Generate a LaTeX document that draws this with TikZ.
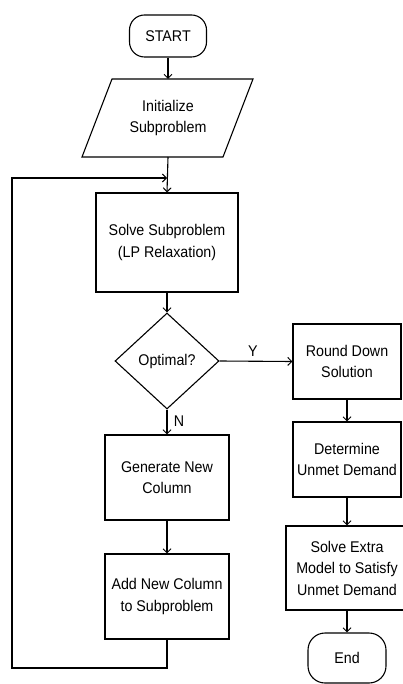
\documentclass[tikz,border=0pt]{standalone}
\usepackage{fontspec}
\setmainfont{Liberation Sans}[FakeStretch=0.92]
\usetikzlibrary{arrows.meta,shapes.geometric}
\tikzset{
  lbl/.style={font=\fontsize{15.5}{21.5}\selectfont, align=center, text=black},
  proc/.style={lbl, draw=black, line width=1.1pt, rectangle, inner sep=0pt},
  term/.style={proc, rounded corners=15pt},
  dec/.style={lbl, draw=black, line width=1.1pt, diamond, inner sep=0pt},
  conn/.style={line width=1.1pt, draw=black},
  arr/.style={conn, -{Straight Barb[length=4pt,width=8pt,line width=1pt]}},
}
\begin{document}
\begin{tikzpicture}[x=1pt,y=-1pt]
\useasboundingbox (0,0) rectangle (402,684);
% nodes
\node[term, minimum width=77pt, minimum height=42pt] (start) at (168,36) {START};
\node[lbl] (init) at (168,118) {Initialize\\Subproblem};
\draw[conn] (112,79) -- (253,79) -- (223,157) -- (82,157) -- cycle;
\coordinate (inittop) at (168,79);
\coordinate (initbot) at (168,157);
\node[proc, minimum width=142pt, minimum height=99pt] (solve) at (167,242.5) {Solve Subproblem\\(LP Relaxation)};
\node[dec, minimum width=104pt, minimum height=96pt] (opt) at (167,361) {Optimal?};
\node[proc, minimum width=108pt, minimum height=75pt] (round) at (347,361.5) {Round Down\\Solution};
\node[proc, minimum width=108pt, minimum height=75pt] (det) at (347,459.5) {Determine\\Unmet Demand};
\node[proc, minimum width=122pt, minimum height=84pt] (extra) at (347,568) {Solve Extra\\Model to Satisfy\\Unmet Demand};
\node[term, minimum width=78pt, minimum height=50pt, rounded corners=17pt] (end) at (347,658) {End};
\node[proc, minimum width=124pt, minimum height=85pt] (gen) at (167,477.5) {Generate New\\Column};
\node[proc, minimum width=124pt, minimum height=85pt] (add) at (167,596.5) {Add New Column\\to Subproblem};
\node[lbl] (ylbl) at (253,351) {Y};
\node[lbl] (nlbl) at (179,421) {N};
\coordinate (join) at (167,178);
\coordinate (lb) at (167,668);
\coordinate (llb) at (12,668);
\coordinate (llt) at (12,178);
% connectors
\draw[arr] (start.south) -- (inittop);
\draw[arr] (initbot) -- (solve.north);
\draw[arr] (solve.south) -- (opt.north);
\draw[arr] (opt.east) -- (round.west);
\draw[arr] (opt.south) -- (gen.north);
\draw[arr] (gen.south) -- (add.north);
\draw[arr] (round.south) -- (det.north);
\draw[arr] (det.south) -- (extra.north);
\draw[arr] (extra.south) -- (end.north);
\draw[arr] (add.south) -- (lb) -- (llb) -- (llt) -- (join);
\end{tikzpicture}
\end{document}
